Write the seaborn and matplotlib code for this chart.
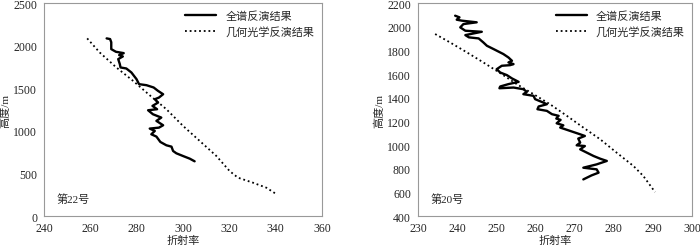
import seaborn as sns
import pandas as pd
import matplotlib
import matplotlib.pyplot as plt

sns.set_style("white")
FONT = ["Liberation Serif", "Noto Sans CJK SC"]
plt.rcParams["font.family"] = FONT

# panel 22 - full spectrum inversion
full22_n = [267, 268.5, 269, 269, 271, 274.4, 272.4, 274, 272, 272.7, 273, 275.5, 277.7,
            279.9, 281, 284.2, 287.3, 289.2, 291.4, 289.6, 287.8, 289.2, 286.8, 288.8,
            284.9, 287, 290.6, 288.5, 291.4, 289.6, 285.6, 287.8, 286.3, 288.5, 290.2,
            292.8, 295, 295.7, 297.1, 300, 302.9, 305]
full22_h = [2085, 2077, 2040, 1959, 1928, 1912, 1889, 1873, 1842, 1783, 1744, 1732, 1685,
            1607, 1548, 1536, 1509, 1469, 1430, 1391, 1371, 1332, 1293, 1254,
            1242, 1195, 1156, 1117, 1066, 1038, 1027, 999, 960, 933, 870,
            831, 815, 764, 737, 705, 674, 643]
# panel 22 - geometric optics inversion
geo22_n = [258.6, 264, 271.2, 278.4, 285.6, 292.8, 300, 307.2, 314.4, 320.1, 323.7, 330.2, 336, 340]
geo22_h = [2085, 1920, 1744, 1587, 1418, 1254, 1058, 882, 705, 529, 451, 392, 333, 263]

# panel 20
full20_n = [239.5, 240.6, 239.9, 241.2, 245, 241.6, 240.8, 242.1, 246.3, 242.1, 243, 245.5,
            246.7, 247.6, 249.3, 251.8, 253.1, 254, 253.1, 254.4, 253.5, 251.4, 250.1,
            251, 252.7, 254, 255.7, 253.1, 251, 250.8, 254.4, 256.9, 257.8, 256.9, 259.5,
            259.9, 262, 262.9, 260.8, 260.5, 262.9, 264.2, 265.9, 265.3, 266.4, 265.4,
            267.1, 266.3, 268.8, 271.4, 272.6, 270.9, 271.4, 270.5, 272.6, 271.4, 273.1,
            274.8, 276.5, 278.2, 275.6, 273.9, 272.2, 275.6, 276.1, 274.3, 272.2]
full20_h = [2093, 2079, 2059, 2051, 2037, 2022, 1994, 1966, 1957, 1929, 1910, 1901,
            1867, 1839, 1811, 1769, 1740, 1712, 1698, 1684, 1675, 1670, 1641,
            1613, 1591, 1563, 1534, 1515, 1495, 1480, 1486, 1472, 1450, 1430, 1416,
            1388, 1359, 1345, 1326, 1303, 1289, 1261, 1247, 1224, 1213, 1184,
            1167, 1148, 1120, 1091, 1077, 1055, 1021, 998, 992, 964, 936,
            908, 885, 866, 837, 823, 809, 795, 767, 744, 710]
geo20_n = [234.4, 238.2, 242.5, 246.7, 251, 255.2, 259.5, 263.7, 268, 272.2, 276.5, 280.7, 285, 287.5, 290.5]
geo20_h = [1938, 1867, 1783, 1698, 1608, 1515, 1430, 1345, 1247, 1148, 1049, 936, 823, 739, 603]

LBL_FULL = "全谱反演结果"
LBL_GEO = "几何光学反演结果"

fig = plt.figure(figsize=(7, 2.51), dpi=100)
ax1 = fig.add_axes([0.063, 0.135, 0.397, 0.849])
ax2 = fig.add_axes([0.597, 0.135, 0.392, 0.849])

panels = [
    (ax1, full22_n, full22_h, geo22_n, geo22_h, "第22号", (240, 360), range(240, 361, 20), (0, 2500), range(0, 2501, 500)),
    (ax2, full20_n, full20_h, geo20_n, geo20_h, "第20号", (230, 300), range(230, 301, 10), (400, 2200), range(400, 2201, 200)),
]

for ax, fn, fh, gn, gh, tag, xl, xt, yl, yt in panels:
    df_f = pd.DataFrame({"n": fn, "h": fh})
    df_g = pd.DataFrame({"n": gn, "h": gh})
    sns.lineplot(data=df_f, x="n", y="h", sort=False, estimator=None, ax=ax,
                 color="black", linewidth=1.7, label=LBL_FULL)
    sns.lineplot(data=df_g, x="n", y="h", sort=False, estimator=None, ax=ax,
                 color="black", linewidth=1.3, linestyle=(0, (1, 1.6)), label=LBL_GEO)
    ax.set_xlim(*xl)
    ax.set_ylim(*yl)
    ax.set_xticks(list(xt))
    ax.set_yticks(list(yt))
    ax.tick_params(axis="both", labelsize=8.5, length=3, width=0.6, color="#777777",
                   direction="out", pad=2)
    ax.tick_params(axis="x", length=0, pad=4)
    for s in ax.spines.values():
        s.set_color("#999999")
        s.set_linewidth(0.8)
    ax.set_xlabel("折射率", fontsize=8, labelpad=1)
    ax.set_ylabel("高度/m", fontsize=8, labelpad=2)
    ax.text(0.045, 0.065, tag, transform=ax.transAxes, fontsize=8)
    ax.legend(loc="upper right", frameon=False, fontsize=8, handlelength=2.8,
              handletextpad=0.8, labelspacing=0.4, borderaxespad=0.3)

fig.savefig("out.png", dpi=100)
